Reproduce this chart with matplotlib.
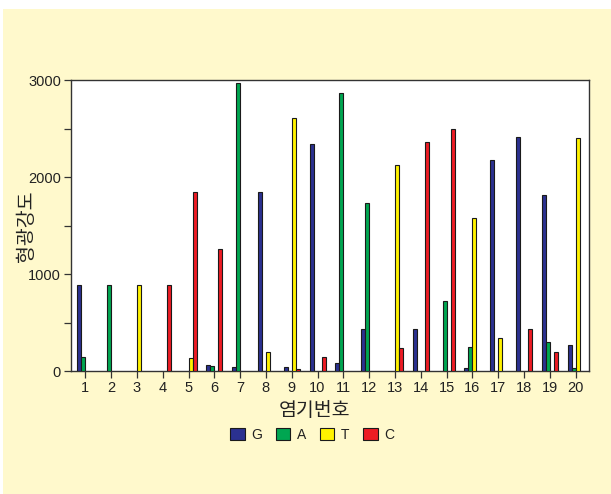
import numpy as np
import matplotlib
matplotlib.use("Agg")
import matplotlib.pyplot as plt
import matplotlib.patheffects as pe
from matplotlib.patches import Rectangle

plt.rcParams['font.family'] = ['Liberation Sans', 'DejaVu Sans']

positions = list(range(1, 21))
bases = ["G", "A", "T", "C"]
colors = ["#2B3190", "#00A651", "#FFF200", "#ED1C24"]

# fluorescence intensity per base at each position
g_vals = [883, 0, 0, 0, 0, 62, 38, 1852, 38, 2347, 86, 436, 0, 433, 0, 27, 2182, 2416, 1814, 268]
a_vals = [144, 883, 0, 0, 0, 52, 2972, 0, 0, 0, 2873, 1735, 0, 0, 725, 244, 0, 0, 296, 34]
t_vals = [0, 0, 883, 0, 134, 0, 0, 192, 2612, 0, 0, 0, 2131, 0, 0, 1581, 340, 0, 0, 2409]
c_vals = [0, 0, 0, 883, 1852, 1254, 0, 0, 24, 141, 0, 0, 234, 2368, 2498, 0, 0, 436, 199, 0]

series = [g_vals, a_vals, t_vals, c_vals]
yticks = [0, 1000, 2000, 3000]
ylabel = "형광강도"
xlabel = "염기번호"

W, H = 611, 494
fig = plt.figure(figsize=(W / 100, H / 100), dpi=100)
fig.patch.set_facecolor("white")

# cream panel behind everything
fig.patches.append(Rectangle((3 / W, 0.5 / H), 1 - 3 / W, 1 - 9.5 / H,
                             transform=fig.transFigure, facecolor="#FFF9CC",
                             edgecolor="none", zorder=-10))

ax = fig.add_axes([70.7 / W, 1 - 371 / H, (589 - 70.7) / W, (371 - 80.3) / H])
ax.set_zorder(1)
ax.set_facecolor("white")

shadow = [pe.SimplePatchShadow(offset=(0.8, -0.6), shadow_rgbFace="#888888", alpha=0.7),
          pe.Normal()]

bw = 0.155
x = np.array(positions, dtype=float)
for i, (vals, col) in enumerate(zip(series, colors)):
    v = np.array(vals, dtype=float)
    m = v > 0
    off = (i - 1.5) * bw
    ax.bar(x[m] + off, v[m], width=bw, color=col, edgecolor="#1a1a1a",
           linewidth=0.8, path_effects=shadow, zorder=3)

ax.set_xlim(0.434, 20.52)
ax.set_ylim(0, 3000)
ax.set_xticks(positions)
ax.set_xticklabels([str(p) for p in positions])
ax.set_yticks(yticks)
ax.set_yticks([500, 1500, 2500], minor=True)

for s in ax.spines.values():
    s.set_color("#333333")
    s.set_linewidth(1.0)

ax.tick_params(axis="both", which="both", direction="out", length=5,
               width=0.9, color="#333333", labelsize=10.5, labelcolor="#222222")
ax.tick_params(axis="y", pad=2)
ax.tick_params(axis="x", pad=2)

kfont = ['Noto Sans CJK KR', 'DejaVu Sans']
fig.text(26.5 / W, 1 - 226 / H, ylabel, rotation=90, ha="center", va="center",
         fontsize=14, family=kfont, color="#222222")
fig.text(314.5 / W, 1 - 410.5 / H, xlabel, ha="center", va="center",
         fontsize=14, family=kfont, color="#222222")

handles = [Rectangle((0, 0), 1, 1, facecolor=c, edgecolor="#1a1a1a", linewidth=0.8,
                     path_effects=shadow) for c in colors]
leg = fig.legend(handles, bases, loc="center", bbox_to_anchor=(312 / W, 1 - 434.7 / H),
                 ncol=4, frameon=False, fontsize=10, handlelength=1.05,
                 handleheight=1.0, handletextpad=0.45, columnspacing=1.0)
for t in leg.get_texts():
    t.set_color("#222222")

fig.savefig("out.png", dpi=100, facecolor=fig.get_facecolor())
